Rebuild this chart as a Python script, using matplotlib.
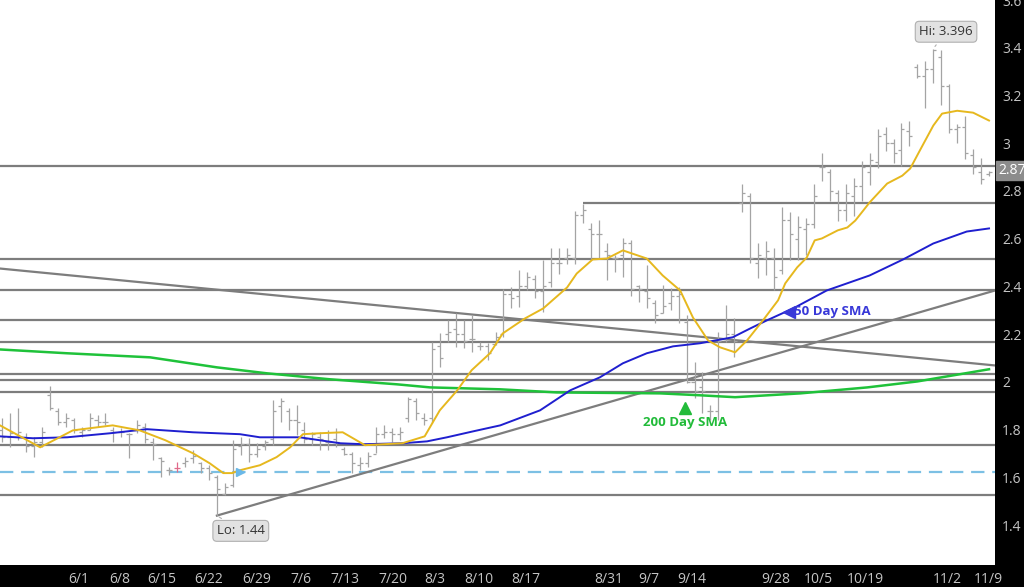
import numpy as np
import matplotlib.pyplot as plt
import matplotlib.transforms as mtransforms

plt.rcParams['font.family'] = ['Open Sans', 'DejaVu Sans']

# daily bars, oldest first
highs = [1.848, 1.869, 1.890, 1.785, 1.768, 1.810, 1.981, 1.890, 1.869, 1.848,
         1.810, 1.869, 1.860, 1.869, 1.810, 1.806, 1.785, 1.839, 1.827, 1.764,
         1.685, 1.643, 1.664, 1.685, 1.714, 1.664, 1.651, 1.609, 1.576, 1.756,
         1.768, 1.764, 1.743, 1.756, 1.923, 1.931, 1.890, 1.902, 1.831, 1.789,
         1.789, 1.797, 1.806, 1.726, 1.705, 1.685, 1.705, 1.810, 1.818, 1.806,
         1.810, 1.935, 1.931, 1.869, 2.166, 2.203, 2.258, 2.287, 2.258, 2.279,
         2.166, 2.162, 2.208, 2.391, 2.396, 2.467, 2.459, 2.446, 2.509, 2.559,
         2.559, 2.563, 2.718, 2.747, 2.664, 2.680, 2.584, 2.530, 2.605, 2.593,
         2.404, 2.488, 2.342, 2.404, 2.392, 2.396, 2.279, 2.082, 2.040, 1.902,
         2.208, 2.321, 2.267, 2.831, 2.793, 2.584, 2.592, 2.559, 2.731, 2.710,
         2.697, 2.685, 2.831, 2.957, 2.894, 2.802, 2.831, 2.856, 2.927, 2.957,
         3.061, 3.069, 3.019, 3.086, 3.095, 3.333, 3.346, 3.396, 3.390, 3.249,
         3.082, 3.115, 2.977, 2.940, 2.885]
lows = [1.747, 1.726, 1.756, 1.705, 1.685, 1.726, 1.881, 1.818, 1.810, 1.785,
        1.770, 1.797, 1.810, 1.818, 1.747, 1.768, 1.680, 1.785, 1.743, 1.672,
        1.601, 1.609, 1.622, 1.643, 1.659, 1.618, 1.588, 1.440, 1.526, 1.559,
        1.693, 1.664, 1.685, 1.714, 1.735, 1.831, 1.797, 1.777, 1.743, 1.735,
        1.714, 1.714, 1.726, 1.693, 1.618, 1.630, 1.643, 1.701, 1.764, 1.747,
        1.756, 1.831, 1.839, 1.818, 1.827, 2.061, 2.166, 2.145, 2.141, 2.124,
        2.133, 2.091, 2.153, 2.187, 2.308, 2.312, 2.383, 2.350, 2.291, 2.396,
        2.454, 2.496, 2.496, 2.664, 2.517, 2.517, 2.425, 2.459, 2.438, 2.362,
        2.333, 2.308, 2.245, 2.287, 2.300, 2.245, 1.994, 1.931, 1.869, 1.839,
        1.839, 2.166, 2.103, 2.710, 2.500, 2.434, 2.446, 2.383, 2.454, 2.509,
        2.509, 2.530, 2.643, 2.843, 2.760, 2.676, 2.676, 2.697, 2.760, 2.823,
        2.898, 2.969, 2.919, 2.906, 2.990, 3.274, 3.149, 3.253, 3.160, 3.044,
        3.002, 2.935, 2.873, 2.831, 2.864]
opens = [1.80, 1.77, 1.78, 1.77, 1.73, 1.75, 1.944, 1.88, 1.83, 1.84,
         1.79, 1.80, 1.84, 1.83, 1.80, 1.79, 1.78, 1.80, 1.81, 1.75,
         1.68, 1.63, 1.64, 1.66, 1.68, 1.66, 1.64, 1.60, 1.53, 1.57,
         1.73, 1.74, 1.70, 1.73, 1.76, 1.90, 1.88, 1.84, 1.80, 1.76,
         1.77, 1.75, 1.76, 1.72, 1.70, 1.65, 1.66, 1.70, 1.78, 1.79,
         1.78, 1.85, 1.92, 1.85, 1.85, 2.15, 2.20, 2.22, 2.20, 2.18,
         2.15, 2.15, 2.16, 2.20, 2.37, 2.36, 2.40, 2.43, 2.38, 2.42,
         2.50, 2.52, 2.52, 2.70, 2.64, 2.62, 2.55, 2.52, 2.53, 2.58,
         2.40, 2.38, 2.33, 2.29, 2.33, 2.36, 2.25, 2.00, 1.98, 1.88,
         1.88, 2.18, 2.20, 2.75, 2.78, 2.50, 2.52, 2.52, 2.47, 2.68,
         2.60, 2.64, 2.66, 2.90, 2.88, 2.79, 2.72, 2.78, 2.82, 2.88,
         2.92, 3.04, 3.00, 2.97, 3.05, 3.32, 3.28, 3.31, 3.36, 3.24,
         3.06, 3.07, 2.95, 2.88, 2.87]
closes = [1.77, 1.785, 1.79, 1.73, 1.747, 1.79, 1.89, 1.83, 1.85, 1.80,
          1.80, 1.85, 1.83, 1.83, 1.79, 1.79, 1.78, 1.82, 1.76, 1.74,
          1.67, 1.63, 1.64, 1.67, 1.69, 1.64, 1.62, 1.55, 1.56, 1.72,
          1.74, 1.70, 1.72, 1.75, 1.88, 1.92, 1.84, 1.83, 1.76, 1.78,
          1.76, 1.75, 1.75, 1.70, 1.66, 1.66, 1.69, 1.78, 1.79, 1.78,
          1.79, 1.93, 1.87, 1.84, 2.14, 2.10, 2.21, 2.20, 2.17, 2.18,
          2.15, 2.12, 2.19, 2.37, 2.35, 2.40, 2.44, 2.38, 2.40, 2.50,
          2.50, 2.53, 2.70, 2.72, 2.62, 2.62, 2.53, 2.52, 2.58, 2.39,
          2.39, 2.35, 2.28, 2.32, 2.36, 2.37, 2.00, 1.96, 1.96, 1.88,
          2.17, 2.20, 2.17, 2.79, 2.52, 2.53, 2.55, 2.44, 2.68, 2.62,
          2.65, 2.66, 2.78, 2.90, 2.80, 2.72, 2.79, 2.82, 2.90, 2.93,
          3.03, 3.00, 2.96, 3.06, 3.03, 3.28, 3.31, 3.39, 3.24, 3.06,
          3.07, 2.96, 2.90, 2.85, 2.88]
pink_bar = 22

# moving averages: (bar index, value)
sma_fast_x = [-0.25, 4.8, 8.9, 13.9, 17.3, 20.5, 24.0, 26.1, 27.8, 28.9, 29.9, 32.4,
              34.5, 36.2, 37.8, 39.9, 42.8, 45.6, 50.3, 53.1, 55.0, 57.2, 59.0,
              61.3, 62.9, 65.7, 68.0, 71.0, 72.2, 74.2, 76.0, 78.0, 81.0, 83.0,
              85.2, 86.8, 88.7, 90.2, 92.1, 93.6, 95.6, 97.5, 98.4, 99.9, 101.1,
              102.1, 103.0, 105.0, 106.2, 107.2, 108.2, 109.0, 111.2, 113.1, 114.1,
              115.3, 117.0, 118.1, 120.0, 122.0, 124.0]
sma_fast_y = [1.818, 1.726, 1.797, 1.818, 1.797, 1.756, 1.701, 1.659, 1.618, 1.618,
              1.630, 1.651, 1.685, 1.726, 1.781, 1.785, 1.789, 1.735, 1.743, 1.772,
              1.881, 1.965, 2.049, 2.120, 2.203, 2.266, 2.308, 2.396, 2.454, 2.513,
              2.517, 2.551, 2.517, 2.446, 2.383, 2.270, 2.174, 2.145, 2.124, 2.174,
              2.258, 2.342, 2.413, 2.480, 2.521, 2.593, 2.601, 2.635, 2.647, 2.676,
              2.718, 2.752, 2.831, 2.864, 2.894, 2.969, 3.074, 3.124, 3.136, 3.128,
              3.095]
sma50_x = [-0.25, 3.9, 8.2, 13.6, 18.2, 24.0, 29.9, 32.4, 37.4, 42.5, 45.4, 50.3,
           53.4, 55.9, 59.2, 62.6, 67.6, 71.4, 75.1, 78.0, 81.0, 84.3, 87.7, 91.8,
           94.0, 96.1, 99.4, 103.6, 109.0, 113.2, 117.0, 121.2, 124.0]
sma50_y = [1.772, 1.764, 1.768, 1.785, 1.802, 1.789, 1.781, 1.768, 1.768, 1.743,
           1.739, 1.743, 1.751, 1.768, 1.793, 1.818, 1.881, 1.965, 2.019, 2.078,
           2.120, 2.149, 2.162, 2.187, 2.224, 2.258, 2.308, 2.383, 2.446, 2.513,
           2.580, 2.630, 2.643]
sma200_x = [-0.25, 8.2, 18.6, 27.0, 33.3, 41.2, 49.6, 53.8, 62.6, 69.7, 82.7, 87.7,
            92.1, 100.3, 108.7, 115.0, 124.0]
sma200_y = [2.136, 2.120, 2.103, 2.061, 2.036, 2.011, 1.990, 1.977, 1.969, 1.956,
            1.952, 1.944, 1.936, 1.952, 1.977, 2.002, 2.053]

# support / resistance levels
levels = [2.906, 2.517, 2.383, 2.258, 2.166, 2.032, 2.006, 1.956, 1.735, 1.525]
level_275 = 2.75
level_275_start = 73
dashed_level = 1.622

# trendlines: (x0, y0, x1, y1)
down_trend = (-0.25, 2.475, 124.75, 2.069)
up_trend = (27, 1.44, 124.75, 2.383)

tick_pos = [9.6, 14.75, 20.1, 26.0, 32.0, 37.5, 43.1, 49.1, 54.4, 59.9, 65.75,
            76.25, 81.25, 86.6, 97.25, 102.6, 108.5, 118.75, 123.9]
tick_labels = ['6/1', '6/8', '6/15', '6/22', '6/29', '7/6', '7/13', '7/20', '8/3',
               '8/10', '8/17', '8/31', '9/7', '9/14', '9/28', '10/5', '10/19',
               '11/2', '11/9']
price_ticks = [1.4, 1.6, 1.8, 2.0, 2.2, 2.4, 2.6, 2.8, 3.0, 3.2, 3.4, 3.6]
last_price = 2.87

fig = plt.figure(figsize=(10.24, 5.87), dpi=100, facecolor='black')
ax = fig.add_axes([0, 22 / 587, 995 / 1024, 565 / 587])
ax.set_facecolor('white')
ax.set_xlim(-0.25, 124.75)
ax.set_ylim(1.233, 3.597)

line_gray = '#7d7d7d'
for lv in levels:
    ax.axhline(lv, color=line_gray, lw=1.6, zorder=1)
ax.hlines(level_275, level_275_start, 124.75, color=line_gray, lw=1.6, zorder=1)
ax.axhline(dashed_level, color='#7cc0e4', lw=1.6, ls=(0, (6, 3.5)), zorder=1)
ax.plot([down_trend[0], down_trend[2]], [down_trend[1], down_trend[3]],
        color=line_gray, lw=1.6, zorder=1)
ax.plot([up_trend[0], up_trend[2]], [up_trend[1], up_trend[3]],
        color=line_gray, lw=1.6, zorder=1)

# OHLC bars
idx = np.arange(len(highs))
bar_colors = ['#e06a8a' if i == pink_bar else '#a4a4a4' for i in idx]
ax.vlines(idx, lows, highs, colors=bar_colors, lw=0.9, zorder=2)
ax.hlines(opens, idx - 0.38, idx, colors=bar_colors, lw=0.9, zorder=2)
ax.hlines(closes, idx, idx + 0.38, colors=bar_colors, lw=0.9, zorder=2)

ax.plot(sma200_x, sma200_y, color='#1fc23a', lw=1.8, zorder=3)
ax.plot(sma50_x, sma50_y, color='#1f1fcf', lw=1.4, zorder=3)
ax.plot(sma_fast_x, sma_fast_y, color='#e6b81e', lw=1.4, zorder=3)

# labels on the chart
ax.plot([98.9], [2.295], marker='<', color='#3838d8', ms=8, zorder=4)
ax.text(99.5, 2.295, '50 Day SMA', color='#3838d8', fontsize=9.5,
        fontweight='bold', va='center', ha='left', zorder=4)
ax.plot([85.8], [1.890], marker='^', color='#22bb3a', ms=8, zorder=4)
ax.text(85.8, 1.831, '200 Day SMA', color='#22bb3a', fontsize=9.5,
        fontweight='bold', va='center', ha='center', zorder=4)
ax.plot([29.9], [dashed_level], marker='>', color='#6ab8e8', ms=6, zorder=4)

box = dict(boxstyle='round,pad=0.3,rounding_size=0.3', fc='#e2e2e2', ec='#b0b0b0', lw=0.8)
hi_i = int(np.argmax(highs))
lo_i = int(np.argmin(lows))
ax.annotate('Hi: %.3f' % highs[hi_i], xy=(hi_i, highs[hi_i]), xytext=(118.6, 3.467),
            ha='center', va='center', fontsize=9.5, color='#333333', bbox=box,
            arrowprops=dict(arrowstyle='-', color='#b0b0b0', lw=0.8), zorder=5)
ax.annotate('Lo: %.2f' % lows[lo_i], xy=(lo_i, lows[lo_i]), xytext=(30.0, 1.376),
            ha='center', va='center', fontsize=9.5, color='#333333', bbox=box,
            arrowprops=dict(arrowstyle='-', color='#b0b0b0', lw=0.8), zorder=5)

for s in ax.spines.values():
    s.set_visible(False)

ax.yaxis.tick_right()
ax.set_yticks(price_ticks, ['%g' % t for t in price_ticks])
ax.tick_params(axis='y', length=0, pad=5, labelcolor='#c4c4c4', labelsize=10)
ax.set_xticks(tick_pos, tick_labels)
ax.tick_params(axis='x', length=0, pad=5, labelcolor='#c4c4c4', labelsize=10)

trans = mtransforms.blended_transform_factory(ax.transAxes, ax.transData)
ax.text(1.003, 2.885, '%.2f' % last_price, transform=trans, fontsize=10,
        color='white', va='center', ha='left', clip_on=False,
        bbox=dict(boxstyle='square,pad=0.15', fc='#8c8c8c', ec='#8c8c8c'))

fig.savefig('out.png', dpi=100, facecolor='black')
